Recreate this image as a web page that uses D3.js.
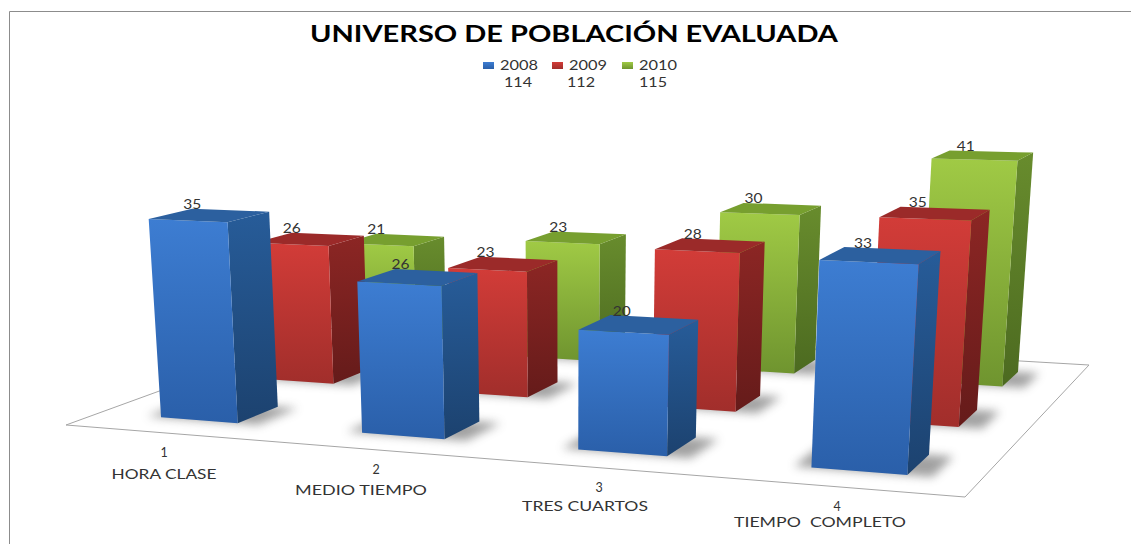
<!DOCTYPE html>
<html><head><meta charset="utf-8">
<script src="https://cdn.jsdelivr.net/npm/d3@7"></script>
<style>html,body{margin:0;padding:0;background:#fff}svg{display:block}text{font-family:Lato,"Open Sans",sans-serif}</style>
</head><body><svg id="c" width="1131" height="544"></svg>
<script>
const categories = ["1","2","3","4"];
const categoryNames = ["HORA CLASE","MEDIO TIEMPO","TRES CUARTOS","TIEMPO  COMPLETO"];
const series = ["2008","2009","2010"];
const totals = [114,112,115];
const values2008 = [35,26,20,33];
const values2009 = [26,23,28,35];
const values2010 = [21,23,30,41];
const title = "UNIVERSO DE POBLACIÓN EVALUADA";
const allValues = [values2008,values2009,values2010];

const palette = {
  "2008":{front:["#3d7dd2","#2a5fa9"],side:["#275c99","#1c426f"],top:"#2c609f"},
  "2009":{front:["#d23c38","#a12e2b"],side:["#8c2624","#651b1a"],top:"#9b2a29"},
  "2010":{front:["#a0ca45","#6f942f"],side:["#688c2d","#4c6a20"],top:"#779f2f"}
};

const svg = d3.select("#c");
const defs = svg.append("defs");
const grad=(id,c)=>{const g=defs.append("linearGradient").attr("id",id).attr("x1",0).attr("y1",0).attr("x2",0).attr("y2",1);
  g.append("stop").attr("offset",0).attr("stop-color",c[0]);g.append("stop").attr("offset",1).attr("stop-color",c[1]);};
series.forEach(s=>{grad("f"+s,palette[s].front);grad("s"+s,palette[s].side);});
defs.append("filter").attr("id","blur").attr("x","-30%").attr("y","-60%").attr("width","160%").attr("height","220%")
  .append("feGaussianBlur").attr("stdDeviation",5);

// perspective camera: floor homography + vertical vanishing point
const floor=[[66,425],[965,497],[1089,365],[349,322]];
const [p0,p1,p2,p3]=floor;
const dx1=p1[0]-p2[0],dx2=p3[0]-p2[0],sx=p0[0]-p1[0]+p2[0]-p3[0];
const dy1=p1[1]-p2[1],dy2=p3[1]-p2[1],sy=p0[1]-p1[1]+p2[1]-p3[1];
const den=dx1*dy2-dx2*dy1;
const hg=(sx*dy2-dx2*sy)/den,hh=(dx1*sy-sx*dy1)/den;
const ha=p1[0]-p0[0]+hg*p1[0],hb=p3[0]-p0[0]+hh*p3[0],hc=p0[0];
const hd=p1[1]-p0[1]+hg*p1[1],he=p3[1]-p0[1]+hh*p3[1],hf=p0[1];
const vp=[565,6900];
const project=(u,v,t)=>{
  const W=hg*u+hh*v+1+t;
  return [(ha*u+hb*v+hc+t*vp[0])/W,(hd*u+he*v+hf+t*vp[1])/W];
};

const x=d3.scaleBand().domain(categories).range([0.003,1.004]).paddingInner(.61).paddingOuter(.305);
const z=d3.scaleBand().domain(series).range([0,1]).paddingInner(.6).paddingOuter(.3);
const y=d3.scaleLinear().domain([0,41]).range([0,-0.0352]);
const labelFrac=d3.scaleLinear().domain([0,1]).range([-0.02,0.24]);
const line=d3.line();

// frame
svg.append("path").attr("d",line([[9.5,544],[9.5,11.5],[1131,11.5]])).attr("fill","none").attr("stroke","#8c8c8c").attr("stroke-width",1);

// floor
svg.append("path").attr("d",line(floor)+"Z").attr("fill","#fff").attr("stroke","#a6a6a6").attr("stroke-width",1);

const bars=[];
series.forEach((s,si)=>categories.forEach((c,ci)=>bars.push({s,c,si,ci,value:allValues[si][ci]})));
bars.sort((a,b)=>d3.descending(a.si,b.si)||d3.descending(a.ci,b.ci));

const g=svg.append("g");
bars.forEach(d=>{
  const u0=x(d.c),u1=u0+x.bandwidth(),v0=z(d.s),v1=v0+z.bandwidth(),t=y(d.value);
  const sg=g.append("g");
  // shadow
  const m=.018;
  sg.append("path").attr("d",line([project(u0-m,v0,0),project(u1+m*1.4,v0,0),project(u1+m*1.4,v1,0),project(u0-m,v1,0)])+"Z")
    .attr("fill","#555").attr("opacity",.55).attr("filter","url(#blur)");
  // right side
  sg.append("path").attr("d",line([project(u1,v0,0),project(u1,v1,0),project(u1,v1,t),project(u1,v0,t)])+"Z").attr("fill",`url(#s${d.s})`);
  // front
  sg.append("path").attr("d",line([project(u0,v0,0),project(u1,v0,0),project(u1,v0,t),project(u0,v0,t)])+"Z").attr("fill",`url(#f${d.s})`);
  // top
  sg.append("path").attr("d",line([project(u0,v0,t),project(u1,v0,t),project(u1,v1,t),project(u0,v1,t)])+"Z").attr("fill",palette[d.s].top);
});
// data labels
bars.forEach(d=>{
  const u=x(d.c)+x.bandwidth()*labelFrac(x(d.c)),v1=z(d.s)+z.bandwidth();
  const p=project(u,v1,y(d.value));
  svg.append("text").attr("x",p[0]-9).attr("y",p[1]).attr("font-size",12.5).attr("fill","#333")
    .attr("textLength",18).attr("lengthAdjust","spacingAndGlyphs").text(d.value);
});

// title
svg.append("text").attr("x",310).attr("y",41.5).attr("font-size",22).attr("font-weight",700).attr("fill","#000")
  .attr("textLength",528).attr("lengthAdjust","spacingAndGlyphs").text(title);

// legend
const lx=d3.scaleOrdinal().domain(series).range([483,552,622]);
const tot=d3.scaleOrdinal().domain(series).range([518,581,653]);
series.forEach((s,i)=>{
  svg.append("rect").attr("x",lx(s)).attr("y",62).attr("width",11).attr("height",7).attr("fill",`url(#f${s})`);
  svg.append("text").attr("x",lx(s)+17).attr("y",70).attr("font-size",12.5).attr("fill","#333").attr("textLength",38).attr("lengthAdjust","spacingAndGlyphs").text(s);
  svg.append("text").attr("x",tot(s)-14).attr("y",87).attr("font-size",12.5).attr("fill","#333").attr("textLength",28).attr("lengthAdjust","spacingAndGlyphs").text(totals[i]);
});

// category labels
const numPos=d3.scaleOrdinal().domain(categories).range([[164,457],[376,474],[599,492],[837,511]]);
const namePos=d3.scaleOrdinal().domain(categories).range([[164,479,105],[361,495,132],[585,511,126],[820,527,172]]);
categories.forEach((c,i)=>{
  const n=numPos(c),m=namePos(c);
  svg.append("text").attr("x",n[0]).attr("y",n[1]).attr("text-anchor","middle").attr("font-size",12.5).attr("fill","#333").text(c);
  svg.append("text").attr("x",m[0]-m[2]/2).attr("y",m[1]).attr("font-size",13).attr("fill","#333").attr("xml:space","preserve").style("white-space","pre")
    .attr("textLength",m[2]).attr("lengthAdjust","spacingAndGlyphs").text(categoryNames[i]);
});
</script></body></html>
